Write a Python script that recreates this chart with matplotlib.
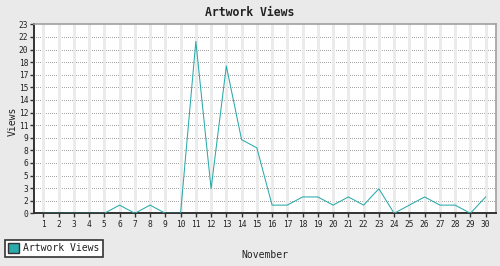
import matplotlib
matplotlib.use("Agg")
import matplotlib.pyplot as plt
from matplotlib.patches import Patch
import numpy as np

days = list(range(1, 31))
views = [0, 0, 0, 0, 0, 1, 0, 1, 0, 0,
         21, 3, 18, 9, 8, 1, 1, 2, 2, 1,
         2, 1, 3, 0, 1, 2, 1, 1, 0, 2]
y_max = 23.1
y_tick_labels = ["0", "2", "3", "5", "6", "8", "9", "11", "12", "14",
                 "15", "17", "18", "20", "22", "23"]
title = "Artwork Views"
x_label = "November"
y_label = "Views"
series_name = "Artwork Views"

W, H = 500, 266
fig = plt.figure(figsize=(W / 100, H / 100), dpi=100, facecolor="#EAEAEA")
plt.rcParams['font.family'] = ['DejaVu Sans Mono']

L, R, T, B = 34.3, 495.7, 24.3, 213.3
ax = fig.add_axes([L / W, (H - B) / H, (R - L) / W, (B - T) / H])
ax.set_facecolor("white")

line_color = "#2AAAAA"
ax.plot(days, views, color=line_color, lw=0.75, zorder=4)

ax.set_xlim(0.41, 30.66)
ax.set_ylim(0, y_max)
yt = np.linspace(0, y_max, len(y_tick_labels))
ax.set_yticks(yt)
ax.set_yticklabels(y_tick_labels)
ax.set_xticks(days)
ax.set_xticklabels([str(d) for d in days])

# grids
for y in yt[1:-1]:
    ax.axhline(y, color="#A8A8A8", lw=0.72, linestyle=(0, (1, 2)), zorder=1,
               antialiased=False)
for d in days:
    ax.axvline(d, color="#EBEBEB", lw=1.0, zorder=2, antialiased=False)

for s in ["left", "bottom"]:
    ax.spines[s].set_color("#333333")
    ax.spines[s].set_linewidth(1.4)
for s in ["top", "right"]:
    ax.spines[s].set_color("#A0A0A0")
    ax.spines[s].set_linewidth(1.2)

ax.tick_params(axis="both", direction="out", color="#333333", labelsize=5.7,
               labelcolor="#222222", length=3, width=1, pad=1.5)

fig.text(0.5, 1 - 12.5 / H, title, ha="center", va="center",
         fontsize=8.3, fontweight="bold", color="#222222")
fig.text(265 / W, 1 - 255 / H, x_label, ha="center", va="center",
         fontsize=7, color="#222222")
fig.text(12.5 / W, 1 - 121 / H, y_label, ha="center", va="center",
         rotation=90, fontsize=7, color="#222222")

leg = fig.legend(handles=[Patch(facecolor=line_color, edgecolor="#333333", lw=1)],
                 labels=[series_name], loc="lower left",
                 bbox_to_anchor=(5 / W, (H - 256.7) / H),
                 frameon=True, fancybox=False, edgecolor="#333333",
                 facecolor="white", framealpha=1, fontsize=7,
                 handlelength=1.1, handleheight=1.1, handletextpad=0.4,
                 borderpad=0.35, borderaxespad=0)
leg.get_frame().set_linewidth(1.2)
for t in leg.get_texts():
    t.set_color("#222222")

fig.savefig("out.png", dpi=100, facecolor=fig.get_facecolor())
